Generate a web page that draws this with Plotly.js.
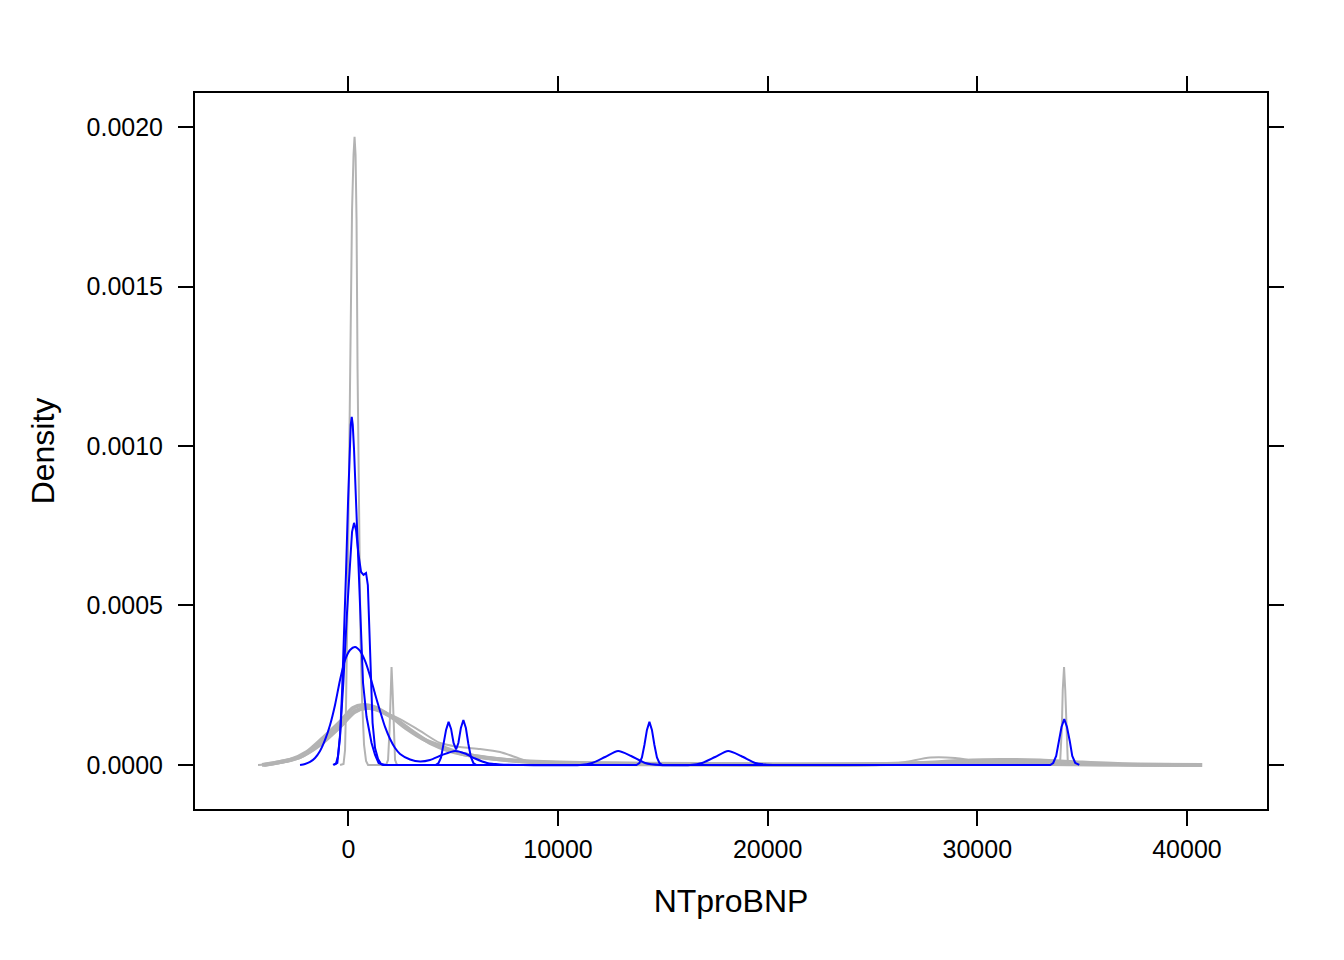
<!DOCTYPE html>
<html>
<head>
<meta charset="utf-8">
<script src="https://cdn.plot.ly/plotly-3.0.1.min.js"></script>
<style>html,body{margin:0;padding:0;background:#fff;}#chart{width:1344px;height:960px;}</style>
</head>
<body>
<div id="chart"></div>
<script>
// ---- Observed-data densities (grey) ----
const obsThickA_x = [-4022,-3593,-2782,-1970,-1207,-396,224,701,1178,1990,2800,3564,4375,5472,7094,8669,11054,14393,21550,26321,29183,31091,32999,35862,40729];
const obsThickA_y = [0,4.7e-6,1.57e-5,4.08e-5,8.47e-5,1.35e-4,1.79e-4,1.88e-4,1.83e-4,1.54e-4,1.13e-4,8.15e-5,5.96e-5,3.45e-5,1.88e-5,9.4e-6,4.7e-6,3.1e-6,1.6e-6,3.1e-6,4.7e-6,6.3e-6,4.7e-6,1.6e-6,0];

const obsThickB_x = [-4117,-3259,-2304,-1350,-396,320,844,1417,2228,3087,3898,4852,6283,8192,11054,16779,23936,27275,29183,31091,32999,34907,37293,40633];
const obsThickB_y = [0,9.4e-6,2.5e-5,6.59e-5,1.22e-4,1.69e-4,1.79e-4,1.72e-4,1.44e-4,1.035e-4,6.9e-5,4.39e-5,2.5e-5,1.25e-5,6.3e-6,3.1e-6,1.6e-6,6.3e-6,1.25e-5,1.57e-5,1.41e-5,7.8e-6,1.6e-6,0];

const obsThinC_x = [-4308,-3259,-2304,-1350,-396,320,844,1512,2467,3421,4375,5329,6283,7238,7953,8669,9623,12008,25367,26560,27752,28945,29898,31091,33476,40156];
const obsThinC_y = [0,6.3e-6,2.2e-5,5.96e-5,1.16e-4,1.63e-4,1.76e-4,1.69e-4,1.44e-4,1.07e-4,6.9e-5,5.64e-5,5.02e-5,4.08e-5,2.5e-5,9.4e-6,1.6e-6,0,0,9.4e-6,2.35e-5,2.2e-5,1.25e-5,4.7e-6,0,0];

const obsSpiky_x = [-396,-229,-157,-110,-38,33,105,177,248,296,344,391,439,510,582,654,749,844,940,
                    1799,1894,1966,2013,2061,2109,2157,2228,2323,
                    33860,33955,34027,34075,34137,34194,34242,34313,34433,34530];
const obsSpiky_y = [0,3.1e-6,4.7e-5,1.88e-4,5.17e-4,9.25e-4,1.364e-3,1.74e-3,1.913e-3,1.969e-3,1.913e-3,1.709e-3,1.239e-3,7.06e-4,3.92e-4,2.04e-4,6.27e-5,1.25e-5,0,
                    0,1.57e-5,1.1e-4,2.35e-4,3.07e-4,2.35e-4,1.1e-4,1.57e-5,0,
                    0,1.57e-5,1.1e-4,2.35e-4,3.07e-4,2.35e-4,1.1e-4,1.57e-5,0,0];

// ---- Imputed-data densities (blue) ----
const impA_x = [-730,-587,-491,-396,-301,-205,-110,-14,57,115,162,210,272,367,463,582,701,868,1107,1274,1441,1656,
                13741,13884,14003,14122,14242,14361,14480,14599,14719,14838,14981,
                33476,33619,33762,33884,34016,34147,34276,34409,34528,34672,34863];
const impA_y = [0,4.7e-6,2.82e-5,8.78e-5,2.26e-4,3.92e-4,6.05e-4,8.25e-4,9.72e-4,1.066e-3,1.091e-3,1.066e-3,9.88e-4,8.31e-4,6.33e-4,4.23e-4,2.57e-4,1.51e-4,6.9e-5,3.14e-5,6.3e-6,0,
                0,6.3e-6,2.35e-5,6.27e-5,1.1e-4,1.35e-4,1.1e-4,6.27e-5,2.35e-5,6.3e-6,0,
                0,6.3e-6,2.82e-5,7.53e-5,1.19e-4,1.44e-4,1.19e-4,7.53e-5,2.82e-5,6.3e-6,0];

const impB_x = [-682,-525,-396,-239,-76,81,177,272,367,487,606,725,844,930,1002,1073,1155,1274,1417,1560,1799,
                4160,4303,4423,4542,4661,4781,4900,5019,5138,5248,5367,5487,5606,5725,5844,5963,6107,6188];
const impB_y = [0,6.3e-6,9.41e-5,2.57e-4,4.64e-4,6.43e-4,7.31e-4,7.59e-4,7.37e-4,6.59e-4,6.05e-4,5.96e-4,6.02e-4,5.64e-4,4.23e-4,2.57e-4,1.32e-4,5.33e-5,1.88e-5,3.1e-6,0,
                0,6.3e-6,2.35e-5,6.27e-5,1.1e-4,1.35e-4,1.13e-4,6.9e-5,4.86e-5,6.9e-5,1.16e-4,1.41e-4,1.16e-4,6.59e-5,2.5e-5,6.3e-6,0,0];

const impC_x = [-2304,-2066,-1827,-1589,-1350,-1112,-873,-635,-396,-157,81,320,558,797,1035,1274,1512,1751,1990,2228,2467,2944,3421,3898,4471,5091,5568,6045,6617,7238,8192,
                11054,11627,12247,12867,13487,14155,14870,16302,16874,17495,18115,18735,19403,19880,20453];
const impC_y = [0,3.1e-6,9.4e-6,2.2e-5,4.39e-5,7.84e-5,1.254e-4,1.882e-4,2.666e-4,3.293e-4,3.606e-4,3.7e-4,3.575e-4,3.261e-4,2.791e-4,2.227e-4,1.693e-4,1.192e-4,8.15e-5,5.33e-5,3.45e-5,1.72e-5,1.1e-5,1.57e-5,3.14e-5,4.39e-5,3.6e-5,2.04e-5,6.3e-6,1.6e-6,0,
                0,6.3e-6,2.5e-5,4.39e-5,2.82e-5,6.3e-6,0,0,6.3e-6,2.5e-5,4.39e-5,2.82e-5,6.3e-6,1.6e-6,0];

const xTicks = [0,10000,20000,30000,40000];
const yTicks = [0,0.0005,0.0010,0.0015,0.0020];
const yTickText = ["0.0000","0.0005","0.0010","0.0015","0.0020"];

const grey = '#b3b3b3', blue = '#0000ff';
function tr(x, y, color, width, shape) {
  return {x: x, y: y, type: 'scatter', mode: 'lines', hoverinfo: 'skip',
          line: {color: color, width: width, shape: shape || 'linear', smoothing: 0.7}};
}
const data = [
  tr(obsThickA_x, obsThickA_y, grey, 4, 'spline'),
  tr(obsThickB_x, obsThickB_y, grey, 4, 'spline'),
  tr(obsThinC_x, obsThinC_y, grey, 2, 'spline'),
  tr(obsSpiky_x, obsSpiky_y, grey, 2),
  tr(impC_x, impC_y, blue, 2, 'spline'),
  tr(impB_x, impB_y, blue, 2),
  tr(impA_x, impA_y, blue, 2)
];
const font = {family: 'Liberation Sans, Arial, Helvetica, sans-serif', color: '#000'};
const axisCommon = {
  showline: true, linecolor: '#000', linewidth: 2, mirror: 'ticks',
  ticks: 'outside', ticklen: 15, tickwidth: 2, tickcolor: '#000',
  showgrid: false, zeroline: false, tickfont: Object.assign({size: 25}, font)
};
const layout = {
  width: 1344, height: 960, showlegend: false,
  paper_bgcolor: '#fff', plot_bgcolor: '#fff',
  margin: {l: 195, r: 77, t: 93, b: 151},
  font: font,
  xaxis: Object.assign({}, axisCommon, {
    range: [-7314, 43817], tickvals: xTicks, ticktext: xTicks.map(String),
    ticklabelstandoff: 2,
    title: {text: 'NTproBNP', font: Object.assign({size: 32}, font), standoff: 28}
  }),
  yaxis: Object.assign({}, axisCommon, {
    range: [-0.000138, 0.0021066], tickvals: yTicks, ticktext: yTickText,
    ticklabelstandoff: 10,
    title: {text: 'Density', font: Object.assign({size: 32}, font), standoff: 22}
  })
};
Plotly.newPlot('chart', data, layout, {displayModeBar: false, staticPlot: true});
</script>
</body>
</html>
